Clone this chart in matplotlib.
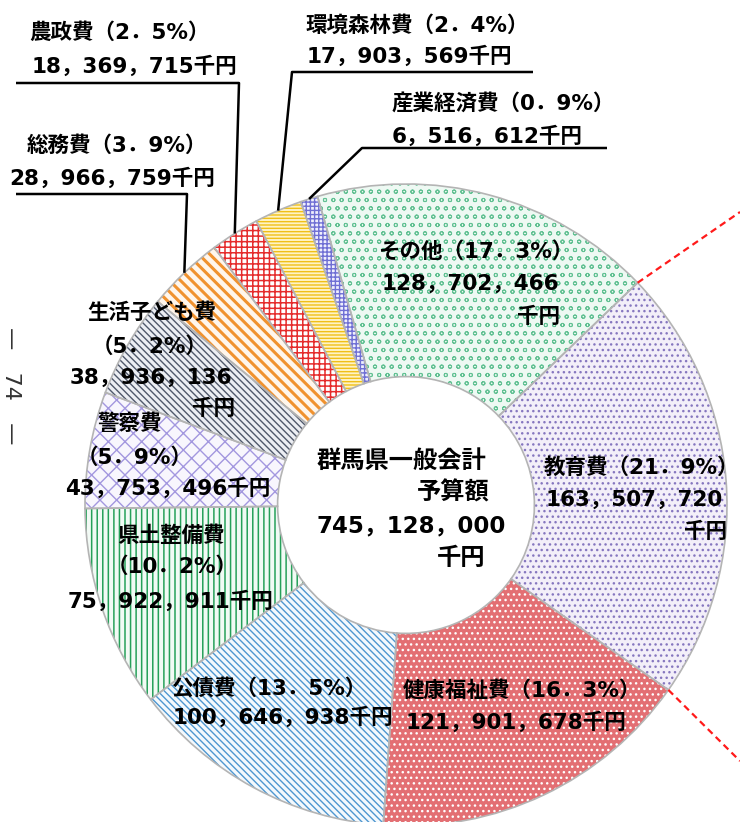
import matplotlib
matplotlib.use('Agg')
import matplotlib.pyplot as plt
import numpy as np

# ---------------- data ----------------
categories = ['その他', '教育費', '健康福祉費', '公債費', '県土整備費', '警察費',
              '生活子ども費', '総務費', '農政費', '環境森林費', '産業経済費']
values = [128702466, 163507720, 121901678, 100646938, 75922911, 43753496,
          38936136, 28966759, 18369715, 17903569, 6516612]
percents = ['17．3', '21．9', '16．3', '13．5', '10．2', '5．9',
            '5．2', '3．9', '2．5', '2．4', '0．9']
total_title = ['群馬県一般会計', '予算額']
total_value = 745128000
unit = '千円'

# ---------------- styles ----------------
face_colors = ['#eef9f3', '#f3eff9', '#e36f73', '#f4f9fd', '#f2faf5', '#f8f6fd',
               '#eceef3', '#fff6ec', '#ffffff', '#fff3c4', '#efeffd']
hatch_colors = ['#62c193', '#8677bf', '#ffffff', '#4f97d0', '#27a05a', '#a397df',
                '#4f586b', '#f0922f', '#e52b2b', '#f0c018', '#6f6fd4']
hatches = ['oo', '...', '...', '\\\\\\\\\\', '|||', 'xx',
           '\\\\\\\\\\', '\\\\\\', '+++', '-----', '++++']
hatch_widths = [0.7, 1.0, 1.0, 1.0, 1.1, 1.0, 1.0, 2.2, 1.1, 1.0, 1.0]

W, H = 740, 822
def py(y):
    return H - y

plt.rcParams['font.family'] = ['DejaVu Sans', 'Noto Sans CJK JP']
plt.rcParams['hatch.linewidth'] = 1.0

fig = plt.figure(figsize=(7.4, 8.22), dpi=100)
ax = fig.add_axes([0, 0, 1, 1])

center = (406, py(505))
R = 321
ring = R * 0.6
start = 106

common = dict(startangle=start, counterclock=False, center=center, radius=R)
base, _ = ax.pie(values, colors=face_colors,
                 wedgeprops=dict(width=ring, linewidth=0, edgecolor='none'), **common)
hatched, _ = ax.pie(values, wedgeprops=dict(width=ring, linewidth=0), **common)
for w, h, c, hw in zip(hatched, hatches, hatch_colors, hatch_widths):
    w.set_facecolor('none')
    w.set_hatch(h)
    w.set_edgecolor(c)
    w.set_linewidth(0)
    if hasattr(w, 'set_hatch_linewidth'):
        try:
            w.set_hatch_linewidth(hw)
        except Exception:
            pass
outl, _ = ax.pie(values, wedgeprops=dict(width=ring, linewidth=1.2, edgecolor='#b4b4b4',
                                         facecolor='none'), **common)
for w in outl:
    w.set_facecolor('none')

# ---------------- labels ----------------
def amt(v):
    return f'{v:,}'.replace(',', '，')

layout = {
    'その他': [('{n}（{p}%）', 378, 252, 'left'), ('{a}', 382, 284, 'left'), ('千円', 560, 317, 'right')],
    '教育費': [('{n}（{p}%）', 544, 467, 'left'), ('{a}', 546, 500, 'left'), ('千円', 727, 532, 'right')],
    '健康福祉費': [('{n}（{p}%）', 403, 691, 'left'), ('{a}千円', 406, 722, 'left')],
    '公債費': [('{n}（{p}%）', 171, 688, 'left'), ('{a}千円', 173, 717, 'left')],
    '県土整備費': [('{n}', 117, 536, 'left'), ('（{p}%）', 107, 567, 'left'), ('{a}千円', 68, 601, 'left')],
    '警察費': [('{n}', 97, 424, 'left'), ('（{p}%）', 77, 458, 'left'), ('{a}千円', 270, 488, 'right')],
    '生活子ども費': [('{n}', 87, 313, 'left'), ('（{p}%）', 92, 347, 'left'), ('{a}', 70, 378, 'left'), ('千円', 235, 409, 'right')],
    '総務費': [('{n}（{p}%）', 27, 146, 'left'), ('{a}千円', 9, 178, 'left')],
    '農政費': [('{n}（{p}%）', 29, 33, 'left'), ('{a}千円', 32, 66, 'left')],
    '環境森林費': [('{n}（{p}%）', 305, 25, 'left'), ('{a}千円', 307, 56, 'left')],
    '産業経済費': [('{n}（{p}%）', 392, 103, 'left'), ('{a}千円', 392, 136, 'left')],
}

for name, v, p in zip(categories, values, percents):
    for tmpl, x, y, ha in layout[name]:
        s = tmpl.format(n=name, p=p, a=amt(v))
        ax.text(x, py(y), s, ha=ha, va='center', fontsize=15.5, fontweight='bold',
                color='black', zorder=5)

# center text
ax.text(317, py(461), total_title[0], ha='left', va='center', fontsize=17.5, fontweight='bold')
ax.text(490, py(493), total_title[1], ha='right', va='center', fontsize=17.5, fontweight='bold')
ax.text(317, py(526), amt(total_value), ha='left', va='center', fontsize=16.5, fontweight='bold')
ax.text(485, py(558), unit, ha='right', va='center', fontsize=17.5, fontweight='bold')

# ---------------- leader lines ----------------
leaders = {
    '農政費': [(16, 83), (239, 83)],
    '総務費': [(16, 194), (187, 194)],
    '環境森林費': [(533, 72), (292, 72)],
    '産業経済費': [(607, 148), (362, 148)],
}
for name, pts in leaders.items():
    w = base[categories.index(name)]
    mid = np.deg2rad((w.theta1 + w.theta2) / 2)
    ex = center[0] + R * np.cos(mid)
    ey = center[1] + R * np.sin(mid)
    xs = [p[0] for p in pts] + [ex]
    ys = [py(p[1]) for p in pts] + [ey]
    ax.plot(xs, ys, color='black', lw=1.8, solid_capstyle='butt', zorder=4)

# red dashed lines from the 教育費 wedge boundaries
we = base[categories.index('教育費')]
for ang, end in [(max(we.theta1, we.theta2), (740, 212)), (min(we.theta1, we.theta2), (740, 761))]:
    a = np.deg2rad(ang)
    sx = center[0] + R * np.cos(a)
    sy = center[1] + R * np.sin(a)
    ax.plot([sx, end[0]], [sy, py(end[1])], color='#ff1a1a', lw=1.6,
            linestyle=(0, (3, 2)), zorder=4)

# page number (rotated)
ax.text(11, py(386), '—\u300074\u3000—', rotation=-90, ha='center', va='center',
        fontsize=16, color='#333333', fontweight='normal')

ax.set_xlim(0, W)
ax.set_ylim(0, H)
ax.set_aspect('equal')
ax.axis('off')

fig.savefig('out.png', dpi=100)
